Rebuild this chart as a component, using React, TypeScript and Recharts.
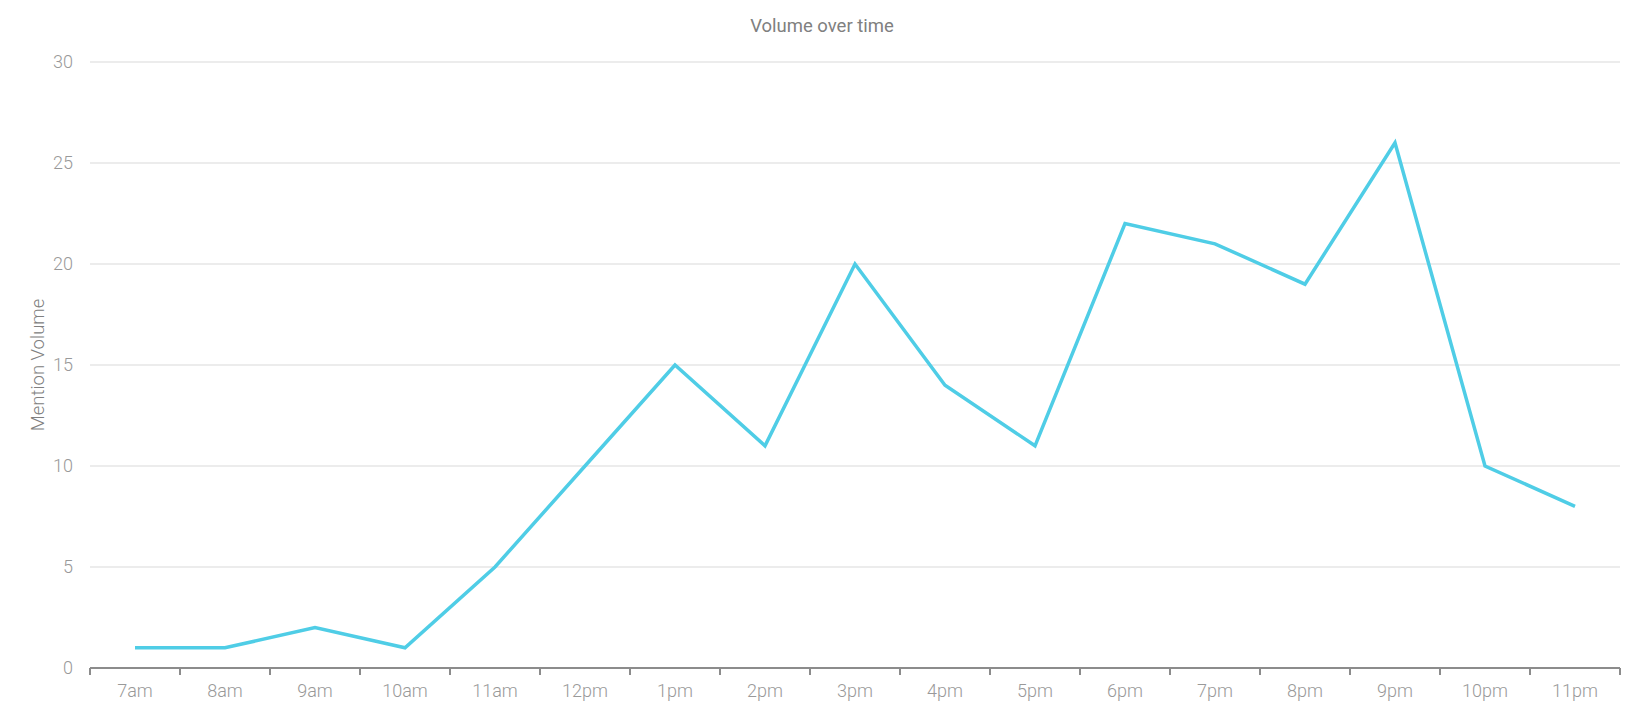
import React from 'react';
import { LineChart, Line, XAxis, YAxis, CartesianGrid, Label } from 'recharts';

const hours = ['7am', '8am', '9am', '10am', '11am', '12pm', '1pm', '2pm', '3pm', '4pm', '5pm', '6pm', '7pm', '8pm', '9pm', '10pm', '11pm'];
const mentions = [1, 1, 2, 1, 5, 10, 15, 11, 20, 14, 11, 22, 21, 19, 26, 10, 8];
const yTicks = [0, 5, 10, 15, 20, 25, 30];

const data = hours.map((hour, i) => ({ hour, mentions: mentions[i] }));

const W = 1644;
const H = 716;
const M = { top: 62, right: 24, left: 30, bottom: 0 };
const Y_AXIS_W = 60;
const BAND = (W - M.left - M.right - Y_AXIS_W) / hours.length;

const FONT = 'Roboto, "Noto Sans", sans-serif';
const AXIS_GREY = '#8c8c8c';

const HourTick = (props: any) => {
  const { x, y, payload, index } = props;
  const left = x - BAND / 2;
  const isLast = index === hours.length - 1;
  return (
    <g>
      <line x1={left} x2={left} y1={y - 8} y2={y - 1} stroke={AXIS_GREY} strokeWidth={2} />
      {isLast && <line x1={left + BAND} x2={left + BAND} y1={y - 8} y2={y - 1} stroke={AXIS_GREY} strokeWidth={2} />}
      <text x={x} y={y + 8} dy="0.71em" textAnchor="middle" fill="#999" fontSize={18} fontWeight={300} fontFamily={FONT}>
        {payload.value}
      </text>
    </g>
  );
};

const YLabel = (props: any) => {
  const { viewBox } = props;
  const cx = 38;
  const cy = viewBox.y + viewBox.height / 2;
  return (
    <text x={cx} y={cy} transform={`rotate(-90 ${cx} ${cy})`} textAnchor="middle" dominantBaseline="central" fill="#808080" fontSize={18.5} fontWeight={300} fontFamily={FONT}>
      Mention Volume
    </text>
  );
};

export default function App() {
  return (
    <div style={{ position: 'relative', width: W, height: H, fontFamily: FONT }}>
      <style>{'body{margin:0}'}</style>
      <div style={{ position: 'absolute', top: 15, left: 0, width: W, textAlign: 'center', fontSize: 18.5, fontWeight: 400, color: '#808080', fontFamily: FONT }}>
        Volume over time
      </div>
      <LineChart width={W} height={H} data={data} margin={M}>
        <CartesianGrid vertical={false} stroke="#e6e6e6" strokeWidth={1.5} />
        <XAxis
          dataKey="hour"
          scale="band"
          height={48}
          tickLine={false}
          axisLine={{ stroke: AXIS_GREY, strokeWidth: 2 }}
          tick={<HourTick />}
          interval={0}
        />
        <YAxis
          width={Y_AXIS_W}
          domain={[0, 30]}
          ticks={yTicks}
          axisLine={false}
          tickLine={false}
          tickMargin={11}
          tick={{ fill: '#999', fontSize: 18, fontWeight: 300, fontFamily: FONT }}
        >
          <Label content={<YLabel />} />
        </YAxis>
        <Line type="linear" dataKey="mentions" stroke="#4fcde6" strokeWidth={3.5} dot={false} isAnimationActive={false} />
      </LineChart>
    </div>
  );
}
